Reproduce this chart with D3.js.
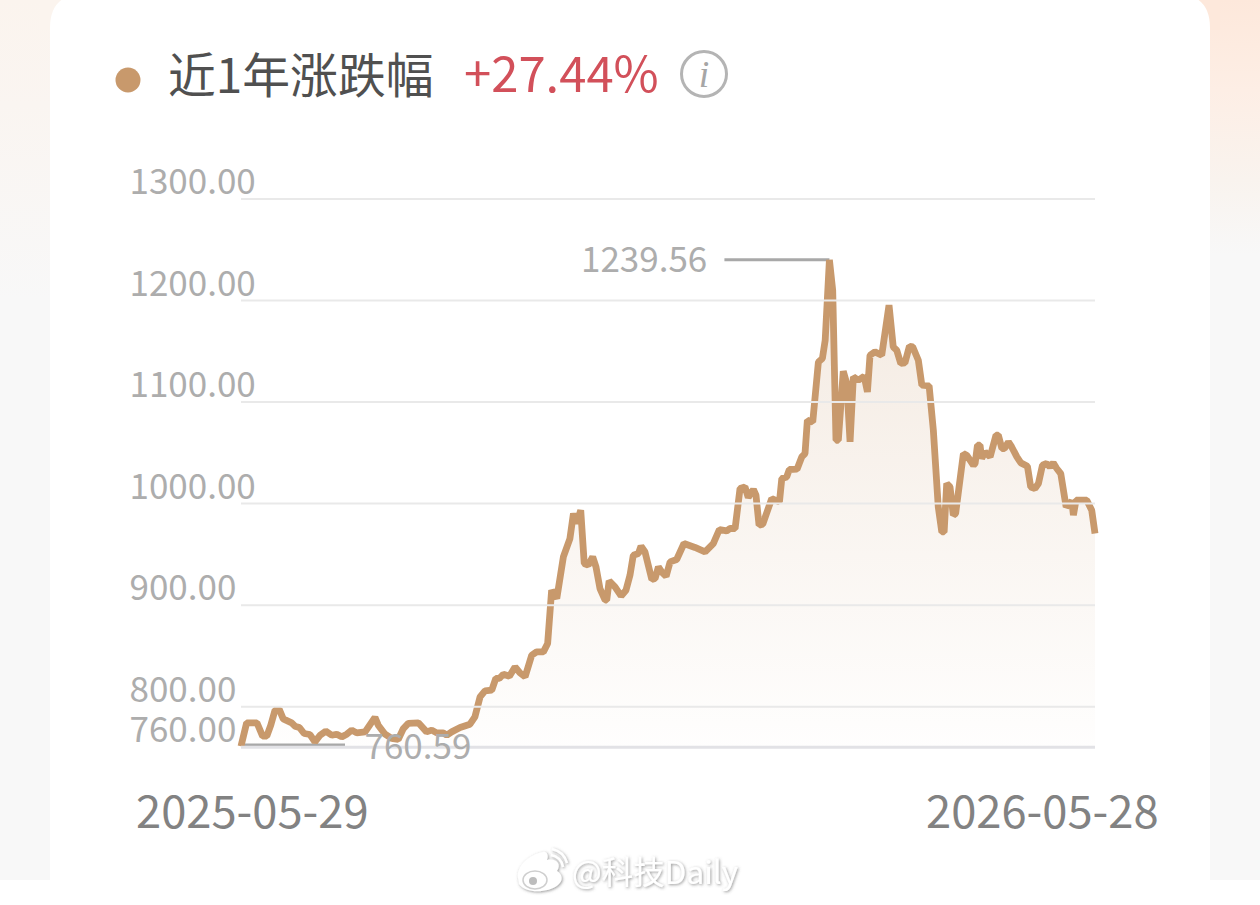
<!DOCTYPE html>
<html>
<head>
<meta charset="utf-8">
<script src="https://cdn.jsdelivr.net/npm/d3@7/dist/d3.min.js"></script>
<style>
html, body { margin: 0; padding: 0; background: #fff; }
svg { display: block; }
text { font-family: "Noto Sans CJK SC", "Noto Sans", sans-serif; }
</style>
</head>
<body>
<div id="chart"></div>
<script>
// days since 2025-05-29
var days = [0,2.4,3.8,6.8,9.2,11,12.7,14.5,16.3,18,21.6,23,24.9,26.9,29.4,31.5,33.7,36.1,38.7,40.8,42.9,45.1,47.2,49.3,52.9,57.1,58.5,61.4,64.2,67,69.2,71.3,75.6,79.1,81.3,83.4,86.2,87.7,89.8,93.4,97.6,99.7,101.9,104,106.9,108.6,110.1,111.8,114.4,116.8,118.9,121.1,123.9,126,128.9,130.7,132.4,134.6,137.4,140.2,141.7,143.1,144.8,146.3,148,149.9,151.3,153,155.2,155.9,156.9,159.4,162,164.1,165.8,167.2,169.4,170.5,172.2,175.1,176.5,177.9,179.3,181.2,182.9,185.7,188.8,193.5,197.8,201.3,203.9,207,208.4,210.6,212.7,214.8,216.2,218.4,219.5,220.8,222.4,226.2,229.5,230.5,232.6,233.7,237,239,240.4,241.4,243.7,246.1,247.8,249,250.8,252.2,253.6,254.6,256.7,258.2,259.6,261,263.1,265.6,267,268.1,270.2,273.1,276.2,278,279.5,281.2,283,284.9,286.3,288.7,290.2,293.3,295.1,297.2,298.7,299.7,300.8,302.2,303.6,304.6,307.9,309.3,312.2,312.9,313.9,315,315.7,317.1,319.3,321.8,322.8,324.3,325.4,327.1,328.5,330.7,332.4,335.2,336.6,338.4,339.9,341.6,343.4,344.8,346.2,347.7,349.4,351.7,354.1,354.8,355.9,360.5,362.6,364];
var closes = [760.59,783.6,783.6,783.6,770.5,770.5,781.3,796.1,796.8,787.5,783.6,780.3,779,773.1,772.1,764.8,771.4,775.4,771.4,772.4,769.8,772.4,776.4,773.7,774.7,788.9,781.3,772.4,768.2,767.2,778,783,783.6,774.7,776.4,773.7,773.7,771.4,774.7,779,782.3,789.5,809.2,815.1,815.8,827.3,827.3,831.5,829.5,838.7,832.8,828.9,850.2,853.5,853.5,861.7,914.2,906.1,947,965.1,989.8,979.9,993,940.5,938.8,947,937.2,915.9,904.4,904.4,923.4,917.5,908.6,914.2,929,948.7,950.4,957.6,951.9,924.8,925.7,937.2,932.2,928,942.1,944.5,960.2,956.3,951.9,960.2,974,972.6,975,975,1014.4,1016,1005.5,1013.4,1007.8,978.2,979.2,1004.5,1001.2,1024.2,1025.8,1033.1,1033.4,1045.5,1048.8,1081.6,1080,1139,1142.4,1160.4,1239.56,1209.6,1061.9,1061.9,1129.9,1117.8,1060.3,1124.3,1121,1125,1109.5,1145.6,1148.9,1145.6,1194.9,1153.8,1150.6,1137.5,1138,1154.5,1153.8,1140.7,1116.1,1115.4,1071.8,996.2,971.6,971.6,1019.3,1015.9,988.1,989.8,1048.8,1047.2,1037.3,1039,1057,1057,1043.9,1050.4,1045.5,1066.9,1066.9,1053.8,1053.8,1060.3,1055.3,1045.5,1039.6,1036.3,1015.9,1014.4,1019.3,1037.3,1039,1035.6,1039.6,1034.1,1029.1,996.2,1002.1,988.1,1002.8,1002.8,993,970];
var yTicks = [760, 800, 900, 1000, 1100, 1200, 1300];
var dateLabels = ["2025-05-29", "2026-05-28"];
var titleText = "近1年涨跌幅";
var changeText = "+27.44%";
var maxValue = 1239.56;
var minValue = 760.59;

var width = 1260, height = 905;
var lineColor = "#c8996c";
var labelColor = "#adadad";

var svg = d3.select("#chart").append("svg")
    .attr("width", width)
    .attr("height", height);

var defs = svg.append("defs");

function vertGradient(id, stops) {
  var g = defs.append("linearGradient").attr("id", id)
      .attr("x1", 0).attr("x2", 0).attr("y1", 0).attr("y2", 1);
  stops.forEach(function(s) {
    g.append("stop").attr("offset", s[0]).attr("stop-color", s[1]);
  });
}
vertGradient("bgLeft", [[0, "#fbf4ee"], [0.35, "#faf5f1"], [1, "#f8f8f8"]]);
vertGradient("bgRight", [[0, "#fde8db"], [0.3, "#fdeee5"], [0.6, "#f9f3ee"], [0.85, "#f8f8f8"]]);

// page background, strips on both sides of the card
svg.append("rect").attr("x", 0).attr("y", 0).attr("width", 50).attr("height", 300).attr("fill", "url(#bgLeft)");
svg.append("rect").attr("x", 0).attr("y", 300).attr("width", 50).attr("height", 580).attr("fill", "#f8f8f8");
svg.append("rect").attr("x", 1210).attr("y", 0).attr("width", 50).attr("height", 300).attr("fill", "url(#bgRight)");
svg.append("rect").attr("x", 1210).attr("y", 300).attr("width", 50).attr("height", 580).attr("fill", "#f8f8f8");
svg.append("rect").attr("x", 40).attr("y", 0).attr("width", 30).attr("height", 30).attr("fill", "#fbf4ee");
svg.append("rect").attr("x", 1190).attr("y", 0).attr("width", 30).attr("height", 30).attr("fill", "#fde8db");

// card
svg.append("path")
    .attr("d", "M50,880V28Q50,-6 84,-6H1176Q1210,-6 1210,28V880Z")
    .attr("fill", "#fff");

// header
svg.append("circle").attr("cx", 128).attr("cy", 80).attr("r", 12.5).attr("fill", lineColor);
svg.append("text").attr("x", 168).attr("y", 93)
    .attr("font-size", 47.8).attr("fill", "#505050").text(titleText);
svg.append("text").attr("x", 464).attr("y", 92)
    .attr("font-size", 49).attr("fill", "#d2505a").text(changeText);
svg.append("circle").attr("cx", 704).attr("cy", 74).attr("r", 22.5)
    .attr("fill", "none").attr("stroke", "#b4b4b4").attr("stroke-width", 3);
svg.append("text").attr("x", 704).attr("y", 87).attr("text-anchor", "middle")
    .style("font-family", "'Liberation Serif', serif").attr("font-style", "italic")
    .attr("font-size", 38).attr("fill", "#a6a6a6").text("i");

// scales
var x = d3.scaleLinear().domain([0, 364]).range([241, 1095]);
var y = d3.scaleLinear().domain([760, 1300]).range([746.8, 198.5]);
var points = days.map(function(d, i) { return [d, closes[i]]; });

// grid and labels through the axis
var yAxis = d3.axisLeft(y)
    .tickValues(yTicks)
    .tickSize(-(x.range()[1] - x.range()[0]))
    .tickFormat(d3.format(".2f"));

var yAxisGroup = svg.append("g")
    .attr("transform", "translate(241,0)")
    .call(yAxis);
yAxisGroup.select(".domain").remove();
yAxisGroup.selectAll(".tick line")
    .attr("stroke", function(d) { return d === 760 ? "#e2e2e6" : "#e9e9e9"; })
    .attr("stroke-width", function(d) { return d === 760 ? 3 : 2; });

// area under the line
var areaGrad = defs.append("linearGradient").attr("id", "areaFill")
    .attr("gradientUnits", "userSpaceOnUse")
    .attr("x1", 0).attr("x2", 0).attr("y1", y(1239.56)).attr("y2", y(760));
areaGrad.append("stop").attr("offset", 0).attr("stop-color", lineColor).attr("stop-opacity", 0.21);
areaGrad.append("stop").attr("offset", 1).attr("stop-color", lineColor).attr("stop-opacity", 0.01);

var area = d3.area()
    .x(function(d) { return x(d[0]); })
    .y0(y(760))
    .y1(function(d) { return y(d[1]); });
svg.append("path").datum(points).attr("d", area).attr("fill", "url(#areaFill)");

var line = d3.line()
    .x(function(d) { return x(d[0]); })
    .y(function(d) { return y(d[1]); });

// max and min markers
var maxIndex = closes.indexOf(maxValue);
svg.append("line")
    .attr("x1", x(days[maxIndex]) - 105).attr("x2", x(days[maxIndex]))
    .attr("y1", y(maxValue)).attr("y2", y(maxValue))
    .attr("stroke", "#a8a8a8").attr("stroke-width", 3);
svg.append("line")
    .attr("x1", x(0)).attr("x2", x(0) + 104)
    .attr("y1", y(minValue) - 1).attr("y2", y(minValue) - 1)
    .attr("stroke", "#a8a8a8").attr("stroke-width", 3.5);

svg.append("path").datum(points)
    .attr("d", line)
    .attr("fill", "none")
    .attr("stroke", lineColor)
    .attr("stroke-width", 6.8)
    .attr("stroke-linejoin", "bevel");

// tick labels go above the line
yAxisGroup.raise();
yAxisGroup.selectAll(".tick line").lower();
yAxisGroup.selectAll(".tick text")
    .attr("x", -111.5)
    .attr("y", -5)
    .attr("dy", 0)
    .attr("text-anchor", "start")
    .attr("font-size", 35)
    .attr("fill", labelColor);

svg.append("text").attr("x", 581).attr("y", y(maxValue) + 12)
    .attr("font-size", 35).attr("fill", labelColor).text(d3.format(".2f")(maxValue));
svg.append("text").attr("x", 364.5).attr("y", y(minValue) + 13)
    .attr("font-size", 35).attr("fill", labelColor).text(d3.format(".2f")(minValue));

// date labels
svg.selectAll(".date").data(dateLabels).enter().append("text")
    .attr("class", "date")
    .attr("x", function(d, i) { return i === 0 ? 136 : 926; })
    .attr("y", 828)
    .attr("font-size", 45.3)
    .attr("fill", "#828282")
    .text(function(d) { return d; });

// watermark
var shadow = defs.append("filter").attr("id", "wmShadow")
    .attr("x", "-20%").attr("y", "-30%").attr("width", "140%").attr("height", "160%");
shadow.append("feDropShadow").attr("dx", 1).attr("dy", 1).attr("stdDeviation", 1.6)
    .attr("flood-color", "#555").attr("flood-opacity", 0.6);

var wm = svg.append("g").attr("filter", "url(#wmShadow)");
wm.append("path")
    .attr("d", "M518,878C516,866 530,854 543,852C547,851 549,856 547,860C556,858 562,864 557,871C562,874 564,880 558,885C548,893 526,894 519,884Z")
    .attr("fill", "#fff");
wm.append("ellipse").attr("cx", 535).attr("cy", 880).attr("rx", 12).attr("ry", 9)
    .attr("fill", "none").attr("stroke", "#cfcfcf").attr("stroke-width", 1.5);
wm.append("circle").attr("cx", 533).attr("cy", 881).attr("r", 4).attr("fill", "#bdbdbd");
wm.append("path").attr("d", "M551,855A14,14 0 0,1 563,867")
    .attr("fill", "none").attr("stroke", "#fff").attr("stroke-width", 2.5);
wm.append("path").attr("d", "M552,849A20,20 0 0,1 567,863")
    .attr("fill", "none").attr("stroke", "#fff").attr("stroke-width", 2.5);
wm.append("text").attr("x", 572).attr("y", 884)
    .attr("font-size", 31.5).attr("fill", "#fff").text("@科技Daily");
</script>
</body>
</html>
